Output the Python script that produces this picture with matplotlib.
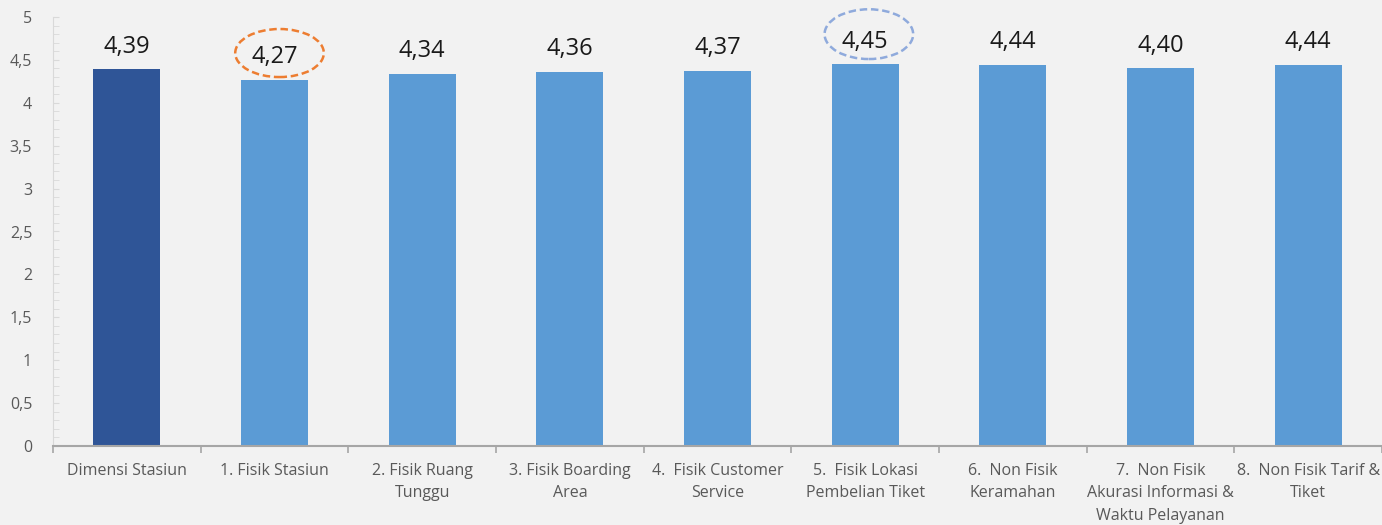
import matplotlib
matplotlib.use("Agg")
import matplotlib.pyplot as plt
from matplotlib.patches import Ellipse
from matplotlib.ticker import MultipleLocator, FuncFormatter

categories = ["Dimensi Stasiun", "1. Fisik Stasiun", "2. Fisik Ruang\nTunggu",
              "3. Fisik Boarding\nArea", "4.  Fisik Customer\nService",
              "5.  Fisik Lokasi\nPembelian Tiket", "6.  Non Fisik\nKeramahan",
              "7.  Non Fisik\nAkurasi Informasi &\nWaktu Pelayanan",
              "8.  Non Fisik Tarif &\nTiket"]
values = [4.39, 4.27, 4.34, 4.36, 4.37, 4.45, 4.44, 4.40, 4.44]
labels = ["4,39", "4,27", "4,34", "4,36", "4,37", "4,45", "4,44", "4,40", "4,44"]
bar_colors = ["#2f5597"] + ["#5b9bd5"] * 8
y_ticks = [0, 0.5, 1, 1.5, 2, 2.5, 3, 3.5, 4, 4.5, 5]

plt.rcParams['font.family'] = ['Open Sans', 'DejaVu Sans']
bg = "#f2f2f2"
fig = plt.figure(figsize=(13.82, 5.25), dpi=100, facecolor=bg)
ax = fig.add_axes([53/1382, 1-446/525, 1-53/1382, 429/525])
ax.set_facecolor(bg)

x = list(range(len(categories)))
ax.bar(x, values, width=0.455, color=bar_colors, zorder=2)
for xi, v, lab in zip(x, values, labels):
    ax.annotate(lab, (xi, v), xytext=(0, 12), textcoords="offset points",
                ha="center", va="baseline", fontsize=17, color="#1a1a1a")

# highlight ellipses
ax.add_patch(Ellipse((1.034, 4.58), 0.6, 0.56, fill=False, edgecolor="#ed7d31",
                     linestyle=(0, (3, 1.5)), linewidth=1.8, zorder=3))
ax.add_patch(Ellipse((5.025, 4.80), 0.6, 0.58, fill=False, edgecolor="#8faadc",
                     linestyle=(0, (3, 1.5)), linewidth=1.8, zorder=3, clip_on=False))

ax.set_xlim(-0.5, len(categories) - 0.5)
ax.set_ylim(0, 5)
ax.set_yticks(y_ticks)
ax.yaxis.set_major_formatter(FuncFormatter(lambda v, p: f"{v:g}".replace(".", ",")))
ax.yaxis.set_minor_locator(MultipleLocator(0.1))
ax.tick_params(axis="y", which="both", direction="in", length=4, color="#d9d9d9",
               labelsize=11.5, labelcolor="#595959", pad=15)

ax.set_xticks(x)
ax.set_xticklabels(categories, fontsize=11.5, color="#595959", linespacing=1.55)
ax.set_xticks([i - 0.5 for i in range(len(categories) + 1)], minor=True)
ax.tick_params(axis="x", which="major", length=0, pad=12)
ax.tick_params(axis="x", which="minor", direction="out", length=5, color="#a6a6a6", width=1.2)

for s in ["top", "right"]:
    ax.spines[s].set_visible(False)
ax.spines["left"].set_color("#d9d9d9")
ax.spines["bottom"].set_color("#a6a6a6")
ax.spines["bottom"].set_linewidth(1.5)

fig.savefig("out.png", dpi=100, facecolor=bg)
